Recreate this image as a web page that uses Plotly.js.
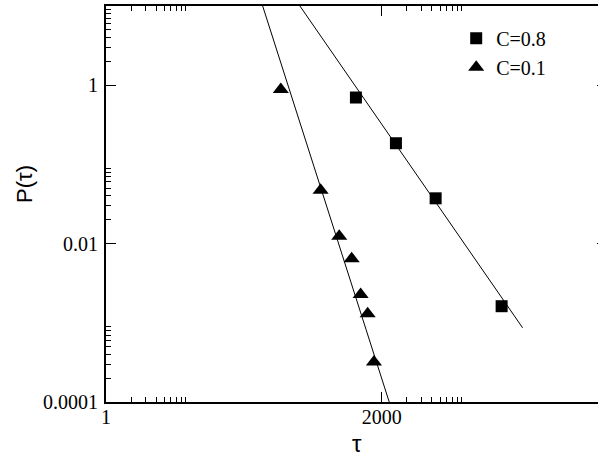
<!DOCTYPE html>
<html>
<head>
<meta charset="utf-8">
<script src="https://cdn.plot.ly/plotly-3.0.1.min.js"></script>
<style>
html, body { margin: 0; padding: 0; overflow: hidden; background: #fff; }
#chart { width: 612px; height: 457px; }
</style>
</head>
<body>
<div id="chart"></div>
<script>
// Data
var tauC08 = [984, 2966, 8866, 54700];
var pC08 = [0.699, 0.185, 0.0373, 0.00162];
var tauC01 = [124, 372, 621, 875, 1121, 1360, 1618];
var pC01 = [0.885, 0.0473, 0.0124, 0.00646, 0.00227, 0.00130, 0.000319];
// Fitted power-law lines (end points)
var fitTauC08 = [210, 97500];
var fitPC08 = [10, 0.000865];
var fitTauC01 = [75.2, 2466];
var fitPC01 = [10, 0.0001];
// Tick labels
var xTickVals = [1, 2000];
var xTickText = ['1', '2000'];
var yTickVals = [0.0001, 0.01, 1];
var yTickText = ['0.0001', '0.01', '1'];
var xMinor = [2, 3, 4, 5, 6, 7, 8, 9, 4000, 6000, 8000, 10000, 12000, 14000, 16000, 18000];
var yMinor = [0.0002, 0.0003, 0.0004, 0.0005, 0.0006, 0.0007, 0.0008, 0.0009,
              0.02, 0.03, 0.04, 0.05, 0.06, 0.07, 0.08, 0.09,
              2, 3, 4, 5, 6, 7, 8, 9];

var traces = [
  {x: fitTauC08, y: fitPC08, mode: 'lines', line: {color: '#000', width: 1}, showlegend: false, hoverinfo: 'skip'},
  {x: fitTauC01, y: fitPC01, mode: 'lines', line: {color: '#000', width: 1}, showlegend: false, hoverinfo: 'skip'},
  {x: tauC08, y: pC08, mode: 'markers', name: 'C=0.8',
   marker: {symbol: 'square', size: 12, color: '#000'}},
  {x: tauC01, y: pC01, mode: 'markers', name: 'C=0.1',
   marker: {symbol: 'triangle-up', size: 14, color: '#000'}}
];

var serif = 'Liberation Serif, Times New Roman, serif';
var sans = 'Liberation Sans, Arial, sans-serif';

var layout = {
  width: 612, height: 457,
  margin: {l: 106, r: 5, t: 6, b: 55},
  paper_bgcolor: '#fff', plot_bgcolor: '#fff',
  showlegend: true,
  legend: {x: 0.699, xanchor: 'left', y: 0.968, yanchor: 'top',
           font: {family: serif, size: 20, color: '#000'},
           bgcolor: 'rgba(0,0,0,0)', borderwidth: 0, tracegroupgap: 0},
  xaxis: {
    type: 'log', range: [0, 6],
    tickmode: 'array', tickvals: xTickVals, ticktext: xTickText,
    ticks: 'inside', ticklen: 10, tickwidth: 1, tickcolor: '#000',
    minor: {tickmode: 'array', tickvals: xMinor, ticks: 'inside', ticklen: 5, tickwidth: 1, tickcolor: '#000', showgrid: false},
    showline: true, linecolor: '#000', linewidth: 2, mirror: 'ticks',
    showgrid: false, zeroline: false,
    ticklabelstandoff: -4,
    tickfont: {family: serif, size: 20, color: '#000'}
  },
  yaxis: {
    type: 'log', range: [-4, 1],
    tickmode: 'array', tickvals: yTickVals, ticktext: yTickText,
    ticks: 'inside', ticklen: 10, tickwidth: 1, tickcolor: '#000',
    minor: {tickmode: 'array', tickvals: yMinor, ticks: 'inside', ticklen: 5, tickwidth: 1, tickcolor: '#000', showgrid: false},
    showline: true, linecolor: '#000', linewidth: 2, mirror: 'ticks',
    showgrid: false, zeroline: false,
    ticklabelstandoff: 2,
    tickfont: {family: serif, size: 20, color: '#000'}
  },
  annotations: [
    {text: 'P(τ)', xref: 'paper', yref: 'paper', x: (24 - 106) / 501, y: 1 - (184 - 6) / 396,
     xanchor: 'center', yanchor: 'middle', textangle: -90, showarrow: false,
     font: {family: sans, size: 22, color: '#000'}},
    {text: 'τ', xref: 'paper', yref: 'paper', x: (357 - 106) / 501, y: 1 - (444 - 6) / 396,
     xanchor: 'center', yanchor: 'middle', showarrow: false,
     font: {family: sans, size: 24, color: '#000'}}
  ]
};

Plotly.newPlot('chart', traces, layout, {displayModeBar: false, staticPlot: true});
</script>
</body>
</html>
